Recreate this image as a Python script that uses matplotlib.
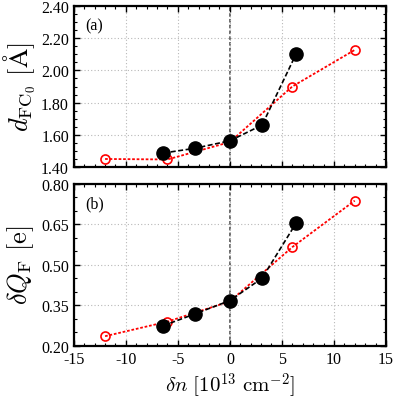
import matplotlib
matplotlib.use("Agg")
import matplotlib.pyplot as plt
from matplotlib.ticker import MultipleLocator, FixedLocator, FormatStrFormatter

plt.rcParams['font.family'] = ['Liberation Serif', 'DejaVu Serif']
plt.rcParams['mathtext.fontset'] = 'cm'
plt.rcParams['axes.unicode_minus'] = False

# Data
red_x = [-12, -6, 0, 6, 12]
red_d = [1.45, 1.447, 1.555, 1.90, 2.127]
red_q = [0.236, 0.29, 0.365, 0.566, 0.738]
blk_x = [-6.4, -3.4, 0, 3.1, 6.35]
blk_d = [1.487, 1.516, 1.563, 1.661, 2.10]
blk_q = [0.275, 0.318, 0.368, 0.451, 0.654]
top_yticks = [1.40, 1.60, 1.80, 2.00, 2.20, 2.40]
bot_yticks = [0.20, 0.35, 0.50, 0.65, 0.80]

fig = plt.figure(figsize=(3.95, 4.02), dpi=100)
ax1 = fig.add_axes([0.187, 0.582, 0.790, 0.4006])
ax2 = fig.add_axes([0.187, 0.137, 0.790, 0.403])

def style(ax, yticks, fmt):
    ax.set_xlim(-15, 15)
    ax.set_ylim(yticks[0], yticks[-1])
    ax.xaxis.set_major_locator(MultipleLocator(5))
    ax.xaxis.set_minor_locator(MultipleLocator(1))
    ax.yaxis.set_major_locator(FixedLocator(yticks))
    ax.yaxis.set_minor_locator(MultipleLocator(0.05))
    ax.yaxis.set_major_formatter(FormatStrFormatter(fmt))
    ax.tick_params(which='both', direction='in', top=True, right=True, labelsize=11.5)
    ax.tick_params(which='major', length=4, width=1)
    ax.tick_params(which='minor', length=2, width=0.8)
    ax.grid(True, which='major', linestyle=(0, (1, 2)), color='#b8b8b8', linewidth=0.8)
    ax.axvline(0, color='#606060', linestyle=(0, (2, 1.2)), linewidth=1.3, zorder=1)
    for s in ax.spines.values():
        s.set_linewidth(1.6)

style(ax1, top_yticks, '%.2f')
style(ax2, bot_yticks, '%.2f')
ax1.tick_params(labelbottom=False)

for ax, ry, by in [(ax1, red_d, blk_d), (ax2, red_q, blk_q)]:
    ax.plot(red_x, ry, color='red', linestyle=(0, (1.5, 1)), linewidth=1.3,
            marker='o', markersize=6.5, markerfacecolor='none', markeredgecolor='red',
            markeredgewidth=1.2, zorder=3)
    ax.plot(blk_x, by, color='black', linestyle=(0, (3, 1.5)), linewidth=1.2,
            marker='o', markersize=9.5, markerfacecolor='black', markeredgecolor='black',
            zorder=4)

ax1.text(0.035, 0.93, '(a)', transform=ax1.transAxes, fontsize=11.5, va='top')
ax2.text(0.035, 0.93, '(b)', transform=ax2.transAxes, fontsize=11.5, va='top')

ax1.set_ylabel(r'$d_{\mathrm{FC}_0}\ [\mathrm{\AA}]$', fontsize=19, labelpad=2)
ax2.set_ylabel(r'$\delta Q_{\mathrm{F}}\ [\mathrm{e}]$', fontsize=19, labelpad=4)
ax2.set_xlabel(r'$\delta n\ [10^{13}\ \mathrm{cm}^{-2}]$', fontsize=15, labelpad=2)

fig.savefig('out.png', dpi=100)
